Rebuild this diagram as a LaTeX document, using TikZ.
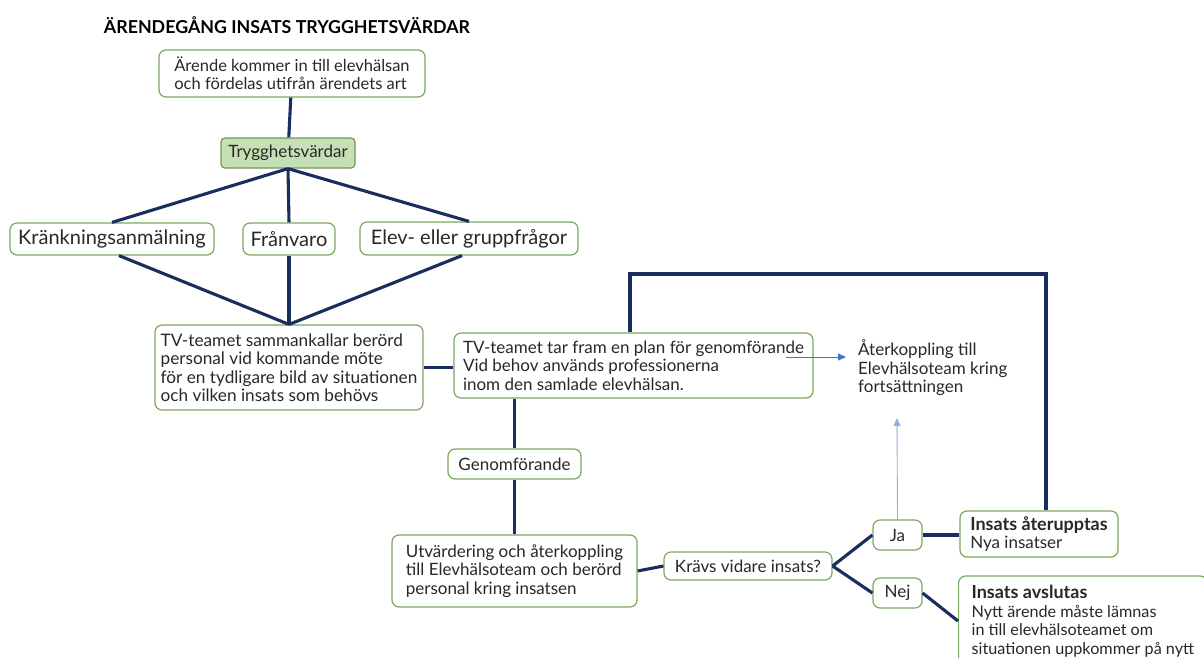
\documentclass[tikz,border=0pt]{standalone}
\usepackage{fontspec}
\setmainfont{Lato}
\usetikzlibrary{arrows.meta}
\definecolor{navy}{RGB}{25,45,95}
\definecolor{boxgreen}{RGB}{125,168,95}
\definecolor{tryggfill}{RGB}{197,224,180}
\definecolor{fbblue}{RGB}{68,114,196}
\definecolor{fblight}{RGB}{150,175,222}
\definecolor{txt}{RGB}{40,40,40}
\begin{document}
\begin{tikzpicture}[x=1pt,y=-1pt,
	box/.style={draw=boxgreen,line width=1.2pt,rounded corners=7pt,fill=white,text=txt,inner xsep=7pt,inner ysep=3pt,font=\fontsize{17}{18.5}\selectfont},
	lbox/.style={box,align=left},
	bigbox/.style={box,font=\fontsize{20}{22}\selectfont},
	link/.style={draw=navy,line width=3.1pt},
	fb/.style={draw=fbblue,line width=0.9pt,-{Triangle[length=8pt,width=7pt]}}]
	\clip (0,0) rectangle (1204,657);
	\fill[white] (0,0) rectangle (1204,657);

	\node[font=\bfseries\fontsize{17.8}{20}\selectfont] (title) at (287,25) {ÄRENDEGÅNG INSATS TRYGGHETSVÄRDAR};

	\node[lbox,minimum width=266pt,minimum height=47pt,font=\fontsize{16.5}{18}\selectfont] (arende) at (292,73.5) {Ärende kommer in till elevhälsan\\och fördelas utifrån ärendets art};
	\node[box,fill=tryggfill,draw=boxgreen!90!black,rounded corners=4pt,minimum width=134pt,minimum height=30pt] (trygg) at (288,153) {Trygghetsvärdar};
	\node[bigbox,minimum width=204pt,minimum height=32pt] (krank) at (112,239) {Kränkningsanmälning};
	\node[bigbox,minimum width=92pt,minimum height=32pt] (franvaro) at (289,239) {Frånvaro};
	\node[bigbox,minimum width=218pt,minimum height=33pt] (elev) at (469,238.5) {Elev- eller gruppfrågor};
	\node[lbox,minimum width=268pt,inner xsep=4pt,minimum height=85pt,font=\fontsize{17.2}{18.5}\selectfont] (tvsam) at (289,367.5) {TV-teamet sammankallar berörd\\personal vid kommande möte\\för en tydligare bild av situationen\\och vilken insats som behövs};
	\node[lbox,minimum width=359pt,inner xsep=6pt,minimum height=65pt] (tvplan) at (633.5,365.5) {TV-teamet tar fram en plan för genomförande\\Vid behov används professionerna\\inom den samlade elevhälsan.};
	\node[align=left,anchor=west,inner xsep=12pt,text=txt,font=\fontsize{17}{18.5}\selectfont] (aterk) at (846,368) {Återkoppling till\\Elevhälsoteam kring\\fortsättningen};
	\node[box,minimum width=133pt,minimum height=30pt] (genom) at (514.5,464) {Genomförande};
	\node[lbox,minimum width=245pt,minimum height=72pt] (utv) at (514.5,571) {Utvärdering och återkoppling\\till Elevhälsoteam och berörd\\personal kring insatsen};
	\node[box,minimum width=168pt,minimum height=28pt] (kravs) at (748,566) {Krävs vidare insats?};
	\node[box,minimum width=49pt,minimum height=30pt] (ja) at (897.5,535) {Ja};
	\node[box,minimum width=49pt,minimum height=30pt] (nej) at (897.5,593) {Nej};
	\node[lbox,minimum width=158pt,minimum height=46pt] (ateru) at (1039,534) {{\bfseries\fontsize{18}{19}\selectfont Insats återupptas}\\Nya insatser};
	\node[lbox,inner xsep=13pt,minimum height=90pt,anchor=west,font=\fontsize{16.2}{18.5}\selectfont] (avsl) at (958,621) {{\bfseries\fontsize{18}{19}\selectfont Insats avslutas}\\Nytt ärende måste lämnas\\in till elevhälsoteamet om\\situationen uppkommer på nytt};

	\coordinate (turnL) at (630,274);
	\coordinate (turnR) at (1046,274);
	\coordinate (fbstart) at (786,357);
	\coordinate (fbtop) at (897,418);

	\draw[link] (arende) -- (trygg);
	\draw[link] (trygg.south) -- (krank.north);
	\draw[link] (trygg.south) -- (franvaro.north);
	\draw[link] (trygg.south) -- (elev.north);
	\draw[link] ([xshift=7pt]krank.south) -- (tvsam.north);
	\draw[link] (franvaro.south) -- (tvsam.north);
	\draw[link] ([xshift=-7pt]elev.south) -- (tvsam.north);
	\draw[link] (tvsam.east) -- (tvsam.east -| tvplan.west);
	\draw[link] (tvplan.north -| turnL) -- (turnL) -- (turnR) -- (turnR |- ateru.north);
	\draw[link] (genom.north |- tvplan.south) -- (genom.north);
	\draw[link] (genom) -- (utv);
	\draw[link] (utv.east) -- (kravs.west);
	\draw[link] (kravs.east) -- (ja.west);
	\draw[link] (kravs.east) -- (nej.west);
	\draw[link] (ja.east) -- (ja.east -| ateru.west);
	\draw[link] (nej.east) -- (avsl.west);

	\draw[fb] (fbstart) -- (fbstart -| aterk.west);
	\draw[fb,draw=fblight] (ja.north) -- (fbtop);
\end{tikzpicture}
\end{document}
